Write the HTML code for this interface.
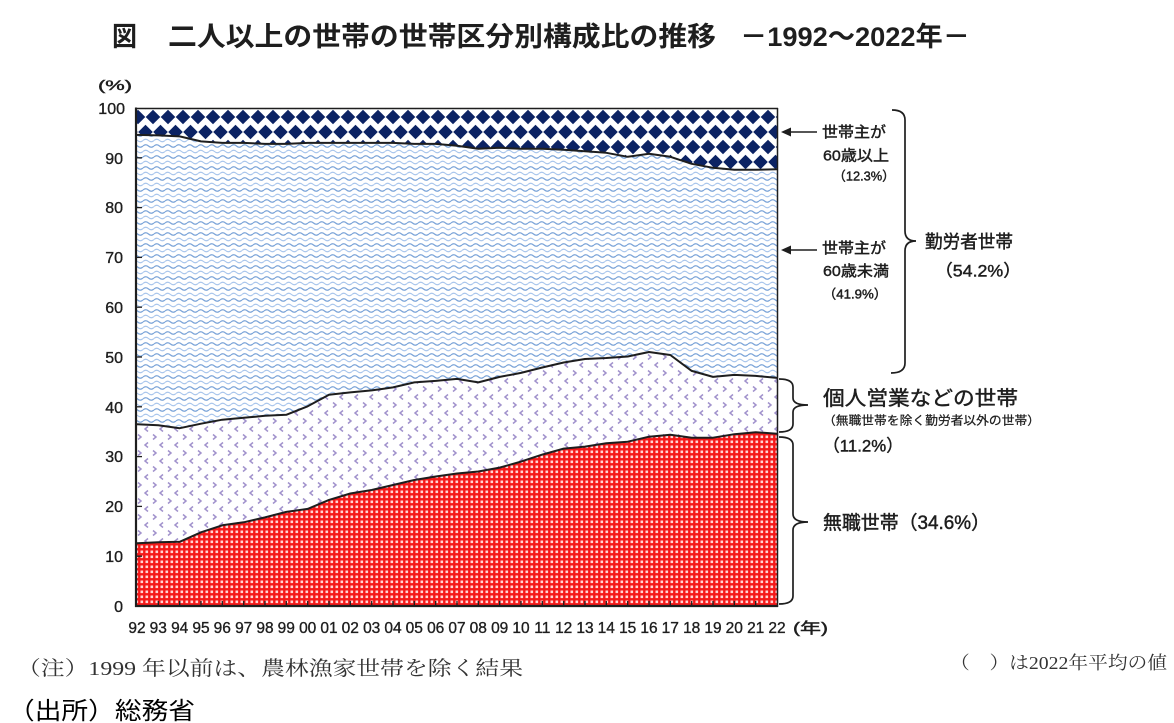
<!DOCTYPE html>
<html><head><meta charset="utf-8"><style>
html,body{margin:0;padding:0;background:#fff;}
svg{display:block;}
.s{font-family:"Liberation Sans","Noto Sans CJK JP",sans-serif;fill:#1e1e1e;}
.b{stroke:#1e1e1e;stroke-width:0.45;}
.m{font-family:"Liberation Serif","Noto Serif CJK SC",serif;fill:#333;}
.ax{font-family:"Liberation Sans",sans-serif;fill:#1e1e1e;stroke:#1e1e1e;stroke-width:0.35;}
</style></head><body>
<svg width="1174" height="723" viewBox="0 0 1174 723" xmlns="http://www.w3.org/2000/svg">
<defs>
<pattern id="dia" patternUnits="userSpaceOnUse" width="15" height="30" x="3" y="27">
<rect width="15" height="30" fill="#fff"/>
<g fill="#0b2263">
<polygon points="0,-7.3 7.3,0 0,7.3 -7.3,0"/>
<polygon points="15,-7.3 22.3,0 15,7.3 7.7,0"/>
<polygon points="7.5,7.7 14.8,15 7.5,22.3 0.2,15"/>
<polygon points="0,22.7 7.3,30 0,37.3 -7.3,30"/>
<polygon points="15,22.7 22.3,30 15,37.3 7.7,30"/>
</g>
</pattern>
<pattern id="wav" patternUnits="userSpaceOnUse" width="11" height="11" x="0" y="0">
<rect width="11" height="11" fill="#fff"/>
<path d="M0,3 Q2.75,0.5 5.5,3 T11,3" stroke="#7aa3d8" stroke-width="1.2" fill="none"/>
<path d="M0,8.5 Q2.75,6 5.5,8.5 T11,8.5" stroke="#a9c6ec" stroke-width="1.1" fill="none"/>
</pattern>
<pattern id="chv" patternUnits="userSpaceOnUse" width="15" height="16" x="0" y="0">
<rect width="15" height="16" fill="#fff"/>
<path d="M3,2.5 L6,5 L3,7.5" stroke="#a192cc" stroke-width="1.5" fill="none"/>
<path d="M13,10.5 L10,13 L13,15.5" stroke="#a192cc" stroke-width="1.5" fill="none"/>
</pattern>
<pattern id="red" patternUnits="userSpaceOnUse" width="5" height="5" x="0" y="0">
<rect width="5" height="5" fill="#f51818"/>
<rect x="0.5" y="0.5" width="2.6" height="2.6" fill="#ffd4d4"/>
</pattern>
</defs>

<!-- Title -->
<text class="s" x="112" y="46" font-size="27" font-weight="bold" textLength="25" lengthAdjust="spacingAndGlyphs">図</text>
<text class="s" x="168" y="46" font-size="27" font-weight="bold" textLength="548" lengthAdjust="spacingAndGlyphs">二人以上の世帯の世帯区分別構成比の推移</text>
<text class="s" x="740" y="46" font-size="27" font-weight="bold" textLength="230" lengthAdjust="spacingAndGlyphs">－1992～2022年－</text>

<!-- plot areas -->
<rect x="136" y="108" width="641" height="498" fill="url(#dia)"/>
<polygon fill="url(#wav)" points="137,134.9 158.3,135.4 179.7,136.4 201,141.4 222.3,142.9 243.7,142.9 265,143.9 286.3,143.9 307.7,142.9 329,142.9 350.3,142.9 371.7,142.9 393,142.9 414.3,143.9 435.7,143.9 457,145.8 478.3,148.8 499.7,147.8 521,148.8 542.3,148.8 563.7,149.8 585,151.3 606.3,152.8 627.7,156.8 649,153.8 670.3,156.8 691.7,163.8 713,167.8 734.3,169.8 755.7,169.8 777,169.3 777,606 137,606"/>
<polygon fill="url(#chv)" points="137,424.2 158.3,425.2 179.7,428.2 201,423.7 222.3,419.7 243.7,417.8 265,415.8 286.3,414.8 307.7,406.3 329,394.8 350.3,392.4 371.7,390.4 393,387.4 414.3,382.4 435.7,380.9 457,378.9 478.3,382.4 499.7,376.9 521,372.9 542.3,367.5 563.7,362.5 585,359 606.3,358 627.7,356.5 649,352 670.3,355 691.7,370.9 713,376.9 734.3,374.9 755.7,375.9 777,377.9 777,606 137,606"/>
<polygon fill="url(#red)" points="137,543.3 158.3,542.3 179.7,541.8 201,532.3 222.3,525.3 243.7,522.3 265,517.4 286.3,511.9 307.7,508.9 329,499.9 350.3,493.5 371.7,490 393,485 414.3,480 435.7,476.5 457,473.5 478.3,471.5 499.7,467.6 521,461.6 542.3,454.6 563.7,448.6 585,446.6 606.3,443.2 627.7,441.7 649,436.7 670.3,434.7 691.7,437.7 713,437.7 734.3,434.2 755.7,432.2 777,433.7 777,606 137,606"/>

<g fill="none" stroke="#1e1e1e" stroke-width="2" stroke-linejoin="round">
<polyline points="137,134.9 158.3,135.4 179.7,136.4 201,141.4 222.3,142.9 243.7,142.9 265,143.9 286.3,143.9 307.7,142.9 329,142.9 350.3,142.9 371.7,142.9 393,142.9 414.3,143.9 435.7,143.9 457,145.8 478.3,148.8 499.7,147.8 521,148.8 542.3,148.8 563.7,149.8 585,151.3 606.3,152.8 627.7,156.8 649,153.8 670.3,156.8 691.7,163.8 713,167.8 734.3,169.8 755.7,169.8 777,169.3"/>
<polyline points="137,424.2 158.3,425.2 179.7,428.2 201,423.7 222.3,419.7 243.7,417.8 265,415.8 286.3,414.8 307.7,406.3 329,394.8 350.3,392.4 371.7,390.4 393,387.4 414.3,382.4 435.7,380.9 457,378.9 478.3,382.4 499.7,376.9 521,372.9 542.3,367.5 563.7,362.5 585,359 606.3,358 627.7,356.5 649,352 670.3,355 691.7,370.9 713,376.9 734.3,374.9 755.7,375.9 777,377.9"/>
<polyline points="137,543.3 158.3,542.3 179.7,541.8 201,532.3 222.3,525.3 243.7,522.3 265,517.4 286.3,511.9 307.7,508.9 329,499.9 350.3,493.5 371.7,490 393,485 414.3,480 435.7,476.5 457,473.5 478.3,471.5 499.7,467.6 521,461.6 542.3,454.6 563.7,448.6 585,446.6 606.3,443.2 627.7,441.7 649,436.7 670.3,434.7 691.7,437.7 713,437.7 734.3,434.2 755.7,432.2 777,433.7"/>
</g>

<!-- frame -->
<g stroke="#1e1e1e" fill="none">
<line x1="136" y1="108.5" x2="778" y2="108.5" stroke-width="1.5"/>
<line x1="777.5" y1="108" x2="777.5" y2="607" stroke-width="1.5"/>
<line x1="136" y1="107.5" x2="136" y2="607" stroke-width="2.2"/>
<line x1="135" y1="606" x2="778" y2="606" stroke-width="2.2"/>
</g>
<!-- y ticks -->
<g stroke="#1e1e1e" stroke-width="1.3">
<line x1="136" y1="556.2" x2="142" y2="556.2"/>
<line x1="136" y1="506.4" x2="142" y2="506.4"/>
<line x1="136" y1="456.6" x2="142" y2="456.6"/>
<line x1="136" y1="406.8" x2="142" y2="406.8"/>
<line x1="136" y1="357" x2="142" y2="357"/>
<line x1="136" y1="307.2" x2="142" y2="307.2"/>
<line x1="136" y1="257.4" x2="142" y2="257.4"/>
<line x1="136" y1="207.6" x2="142" y2="207.6"/>
<line x1="136" y1="157.8" x2="142" y2="157.8"/>
</g>
<!-- x ticks -->
<g stroke="#1e1e1e" stroke-width="1.3">
<line x1="158.3" y1="606" x2="158.3" y2="601"/><line x1="179.7" y1="606" x2="179.7" y2="601"/><line x1="201" y1="606" x2="201" y2="601"/><line x1="222.3" y1="606" x2="222.3" y2="601"/><line x1="243.7" y1="606" x2="243.7" y2="601"/><line x1="265" y1="606" x2="265" y2="601"/><line x1="286.3" y1="606" x2="286.3" y2="601"/><line x1="307.7" y1="606" x2="307.7" y2="601"/><line x1="329" y1="606" x2="329" y2="601"/><line x1="350.3" y1="606" x2="350.3" y2="601"/><line x1="371.7" y1="606" x2="371.7" y2="601"/><line x1="393" y1="606" x2="393" y2="601"/><line x1="414.3" y1="606" x2="414.3" y2="601"/><line x1="435.7" y1="606" x2="435.7" y2="601"/><line x1="457" y1="606" x2="457" y2="601"/><line x1="478.3" y1="606" x2="478.3" y2="601"/><line x1="499.7" y1="606" x2="499.7" y2="601"/><line x1="521" y1="606" x2="521" y2="601"/><line x1="542.3" y1="606" x2="542.3" y2="601"/><line x1="563.7" y1="606" x2="563.7" y2="601"/><line x1="585" y1="606" x2="585" y2="601"/><line x1="606.3" y1="606" x2="606.3" y2="601"/><line x1="627.7" y1="606" x2="627.7" y2="601"/><line x1="649" y1="606" x2="649" y2="601"/><line x1="670.3" y1="606" x2="670.3" y2="601"/><line x1="691.7" y1="606" x2="691.7" y2="601"/><line x1="713" y1="606" x2="713" y2="601"/><line x1="734.3" y1="606" x2="734.3" y2="601"/><line x1="755.7" y1="606" x2="755.7" y2="601"/>
</g>

<!-- y labels -->
<g class="ax" font-size="16" text-anchor="end">
<text x="123" y="612">0</text>
<text x="123" y="562">10</text>
<text x="123" y="512">20</text>
<text x="123" y="462">30</text>
<text x="123" y="413">40</text>
<text x="123" y="363">50</text>
<text x="123" y="313">60</text>
<text x="123" y="263">70</text>
<text x="123" y="213">80</text>
<text x="123" y="164">90</text>
<text x="125" y="114">100</text>
</g>
<text class="s b" x="98" y="90" font-size="14" textLength="34" lengthAdjust="spacingAndGlyphs">(%)</text>

<!-- x labels -->
<g class="ax" font-size="15.5" text-anchor="middle">
<text x="137" y="633">92</text><text x="158.3" y="633">93</text><text x="179.7" y="633">94</text><text x="201" y="633">95</text><text x="222.3" y="633">96</text><text x="243.7" y="633">97</text><text x="265" y="633">98</text><text x="286.3" y="633">99</text><text x="307.7" y="633">00</text><text x="329" y="633">01</text><text x="350.3" y="633">02</text><text x="371.7" y="633">03</text><text x="393" y="633">04</text><text x="414.3" y="633">05</text><text x="435.7" y="633">06</text><text x="457" y="633">07</text><text x="478.3" y="633">08</text><text x="499.7" y="633">09</text><text x="521" y="633">10</text><text x="542.3" y="633">11</text><text x="563.7" y="633">12</text><text x="585" y="633">13</text><text x="606.3" y="633">14</text><text x="627.7" y="633">15</text><text x="649" y="633">16</text><text x="670.3" y="633">17</text><text x="691.7" y="633">18</text><text x="713" y="633">19</text><text x="734.3" y="633">20</text><text x="755.7" y="633">21</text><text x="777" y="633">22</text>
</g>
<text class="s b" x="793" y="633" font-size="15" textLength="35" lengthAdjust="spacingAndGlyphs">(年)</text>

<!-- arrows -->
<g stroke="#1e1e1e" stroke-width="1.4">
<line x1="789" y1="132" x2="817" y2="132"/>
<line x1="789" y1="250" x2="817" y2="250"/>
</g>
<polygon points="781,132 791,127.5 791,136.5" fill="#1e1e1e"/>
<polygon points="781,250 791,245.5 791,254.5" fill="#1e1e1e"/>

<!-- braces -->
<g fill="none" stroke="#1e1e1e" stroke-width="1.7">
<path d="M892,110 Q905,110 905,120 L905,231 Q905,241 916,241 Q905,241 905,251 L905,363 Q905,373 891,373"/>
<path d="M779,379 Q793,379 793,387 L793,398 Q793,405 808,405 Q793,405 793,412 L793,424 Q793,432 779,432"/>
<path d="M779,437 Q793,437 793,445 L793,514 Q793,522 808,522 Q793,522 793,530 L793,596 Q793,604 779,604"/>
</g>

<!-- annotations -->
<g class="s b">
<text x="822" y="137" font-size="15" textLength="64" lengthAdjust="spacingAndGlyphs">世帯主が</text>
<text x="823" y="160.5" font-size="15" textLength="66" lengthAdjust="spacingAndGlyphs">60歳以上</text>
<text x="833" y="180.5" font-size="13" textLength="62" lengthAdjust="spacingAndGlyphs">（12.3%）</text>
<text x="822" y="253" font-size="15" textLength="64" lengthAdjust="spacingAndGlyphs">世帯主が</text>
<text x="823" y="276" font-size="15" textLength="66" lengthAdjust="spacingAndGlyphs">60歳未満</text>
<text x="823" y="298.5" font-size="13" textLength="64" lengthAdjust="spacingAndGlyphs">（41.9%）</text>
<text x="925" y="248" font-size="18" textLength="88" lengthAdjust="spacingAndGlyphs">勤労者世帯</text>
<text x="935" y="276.5" font-size="17" textLength="86" lengthAdjust="spacingAndGlyphs">（54.2%）</text>
<text x="823" y="405" font-size="20" textLength="195" lengthAdjust="spacingAndGlyphs">個人営業などの世帯</text>
<text x="823" y="424.5" font-size="12" textLength="217" lengthAdjust="spacingAndGlyphs" style="stroke-width:0.25">（無職世帯を除く勤労者以外の世帯）</text>
<text x="823" y="451.5" font-size="17" textLength="80" lengthAdjust="spacingAndGlyphs">（11.2%）</text>
<text x="823" y="529" font-size="19" textLength="167" lengthAdjust="spacingAndGlyphs">無職世帯（34.6%）</text>
</g>

<!-- footnotes -->
<text class="m" x="17" y="675" font-size="20" textLength="506" lengthAdjust="spacingAndGlyphs">（注）1999 年以前は、農林漁家世帯を除く結果</text>
<text class="m" x="950" y="669" font-size="18" textLength="217" lengthAdjust="spacingAndGlyphs">（　）は2022年平均の値</text>
<text class="s" x="8" y="719" font-size="24" textLength="187" lengthAdjust="spacingAndGlyphs" style="fill:#000">（出所）総務省</text>
</svg>
</body></html>
